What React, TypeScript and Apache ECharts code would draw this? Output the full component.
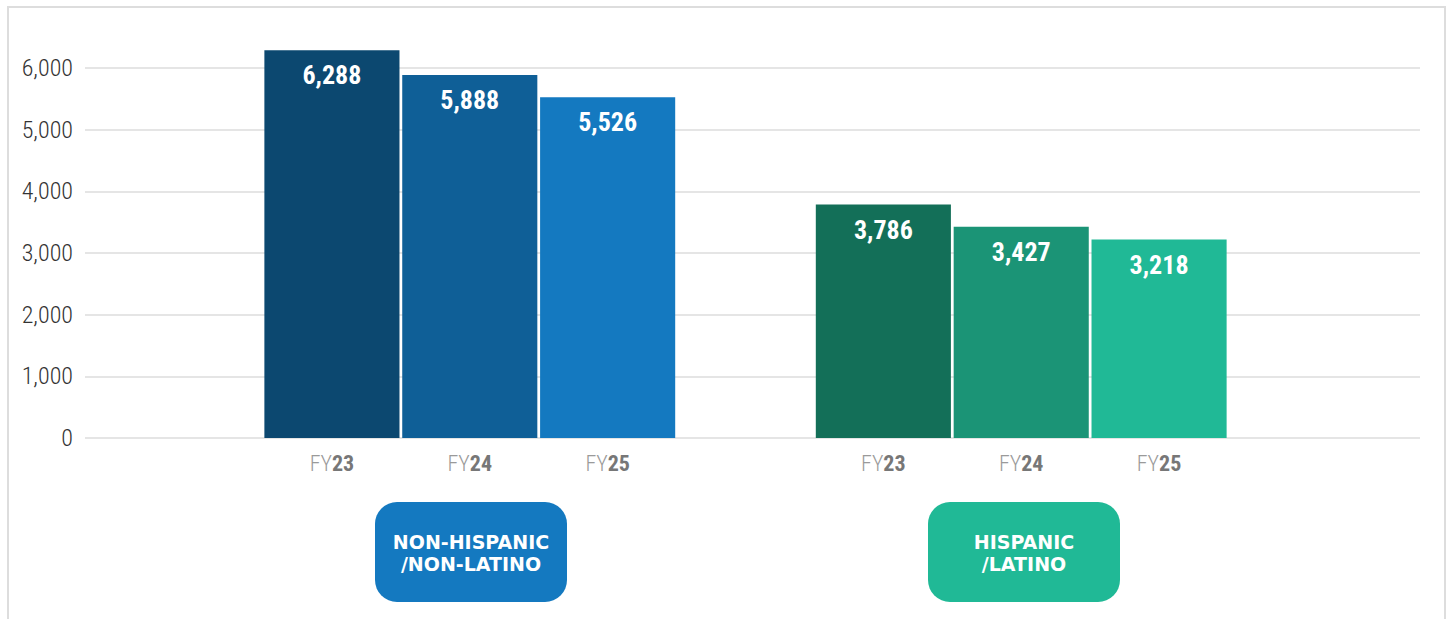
import React, { useEffect, useRef } from "react";
import * as echarts from "echarts";

const categories = ["FY23", "FY24", "FY25", "", "FY23", "FY24", "FY25"];
const values: (number | null)[] = [6288, 5888, 5526, null, 3786, 3427, 3218];
const barColors = ["#0c4870", "#0f5f97", "#1479c0", "#ffffff", "#136f58", "#1b9476", "#20b996"];
const yTicks = { min: 0, max: 6000, interval: 1000 };
const barAxisMax = 6300;
const groupBadges = [
  { lines: ["NON-HISPANIC", "/NON-LATINO"], color: "#1479c0", cx: 471 },
  { lines: ["HISPANIC", "/LATINO"], color: "#20b996", cx: 1024 },
];

const COND = "'Roboto Condensed', 'DejaVu Sans Condensed', sans-serif";
const fmt = (v: number) => v.toLocaleString("en-US");

// plot geometry: zero line at y=438, 6000 line at y=68
const ZERO_Y = 438;
const PX_PER_UNIT = 370 / 6000;

export default function App() {
  const ref = useRef<HTMLDivElement>(null);
  useEffect(() => {
    if (!ref.current) return;
    const chart = echarts.init(ref.current, undefined, { renderer: "svg" });
    const badgeGraphics: any[] = [];
    groupBadges.forEach((b) => {
      badgeGraphics.push({
        type: "rect",
        shape: { x: b.cx - 96, y: 502, width: 192, height: 100, r: 22 },
        style: { fill: b.color },
        z: 10,
      });
      b.lines.forEach((line, i) => {
        badgeGraphics.push({
          type: "text",
          x: b.cx,
          y: 542 + i * 22,
          z: 11,
          style: {
            text: line,
            fill: "#ffffff",
            font: "bold 19px 'DejaVu Sans', sans-serif",
            textAlign: "center",
            textVerticalAlign: "middle",
          },
        });
      });
    });
    const barHeight = barAxisMax * PX_PER_UNIT;
    chart.setOption({
      animation: false,
      backgroundColor: "#ffffff",
      grid: [
        { left: 85, right: 28, top: 68, height: 370 },
        { left: 263, width: 965, top: ZERO_Y - barHeight, height: barHeight },
      ],
      xAxis: [
        { type: "category", gridIndex: 0, data: ["a"], show: false },
        {
          type: "category",
          gridIndex: 1,
          data: categories,
          axisLine: { show: false },
          axisTick: { show: false },
          axisLabel: {
            interval: 0,
            margin: 14,
            formatter: (v: string) => (v ? `{a|FY}{b|${v.slice(2)}}` : ""),
            rich: {
              a: { color: "#9a9a9a", fontSize: 22, fontWeight: 300, fontFamily: COND },
              b: { color: "#777777", fontSize: 22, fontWeight: "bold", fontFamily: COND },
            },
          },
        },
      ],
      yAxis: [
        {
          type: "value",
          gridIndex: 0,
          min: yTicks.min,
          max: yTicks.max,
          interval: yTicks.interval,
          axisLine: { show: false },
          axisTick: { show: false },
          splitLine: { lineStyle: { color: "#dcdcdc", width: 1.5 } },
          axisLabel: {
            margin: 12,
            color: "#333333",
            fontSize: 24,
            fontWeight: 300,
            fontFamily: COND,
            formatter: (v: number) => fmt(v),
          },
        },
        {
          type: "value",
          gridIndex: 1,
          min: 0,
          max: barAxisMax,
          show: false,
          splitLine: { show: false },
        },
      ],
      series: [
        {
          type: "bar",
          xAxisIndex: 1,
          yAxisIndex: 1,
          barCategoryGap: "2%",
          data: values.map((v, i) => ({
            value: v === null ? "-" : v,
            itemStyle: { color: barColors[i] },
          })),
          label: {
            show: true,
            position: "insideTop",
            distance: 12,
            color: "#ffffff",
            fontSize: 26,
            fontWeight: "bold",
            fontFamily: COND,
            formatter: (p: any) => fmt(p.value),
          },
        },
      ],
      graphic: [
        {
          type: "rect",
          shape: { x: 8, y: 7, width: 1437, height: 640 },
          style: { fill: "none", stroke: "#dddddd", lineWidth: 2 },
          z: 0,
          silent: true,
        },
        ...badgeGraphics,
      ],
    });
    return () => chart.dispose();
  }, []);
  return (
    <div
      ref={ref}
      style={{ position: "absolute", left: 0, top: 0, width: 1448, height: 619 }}
    />
  );
}
